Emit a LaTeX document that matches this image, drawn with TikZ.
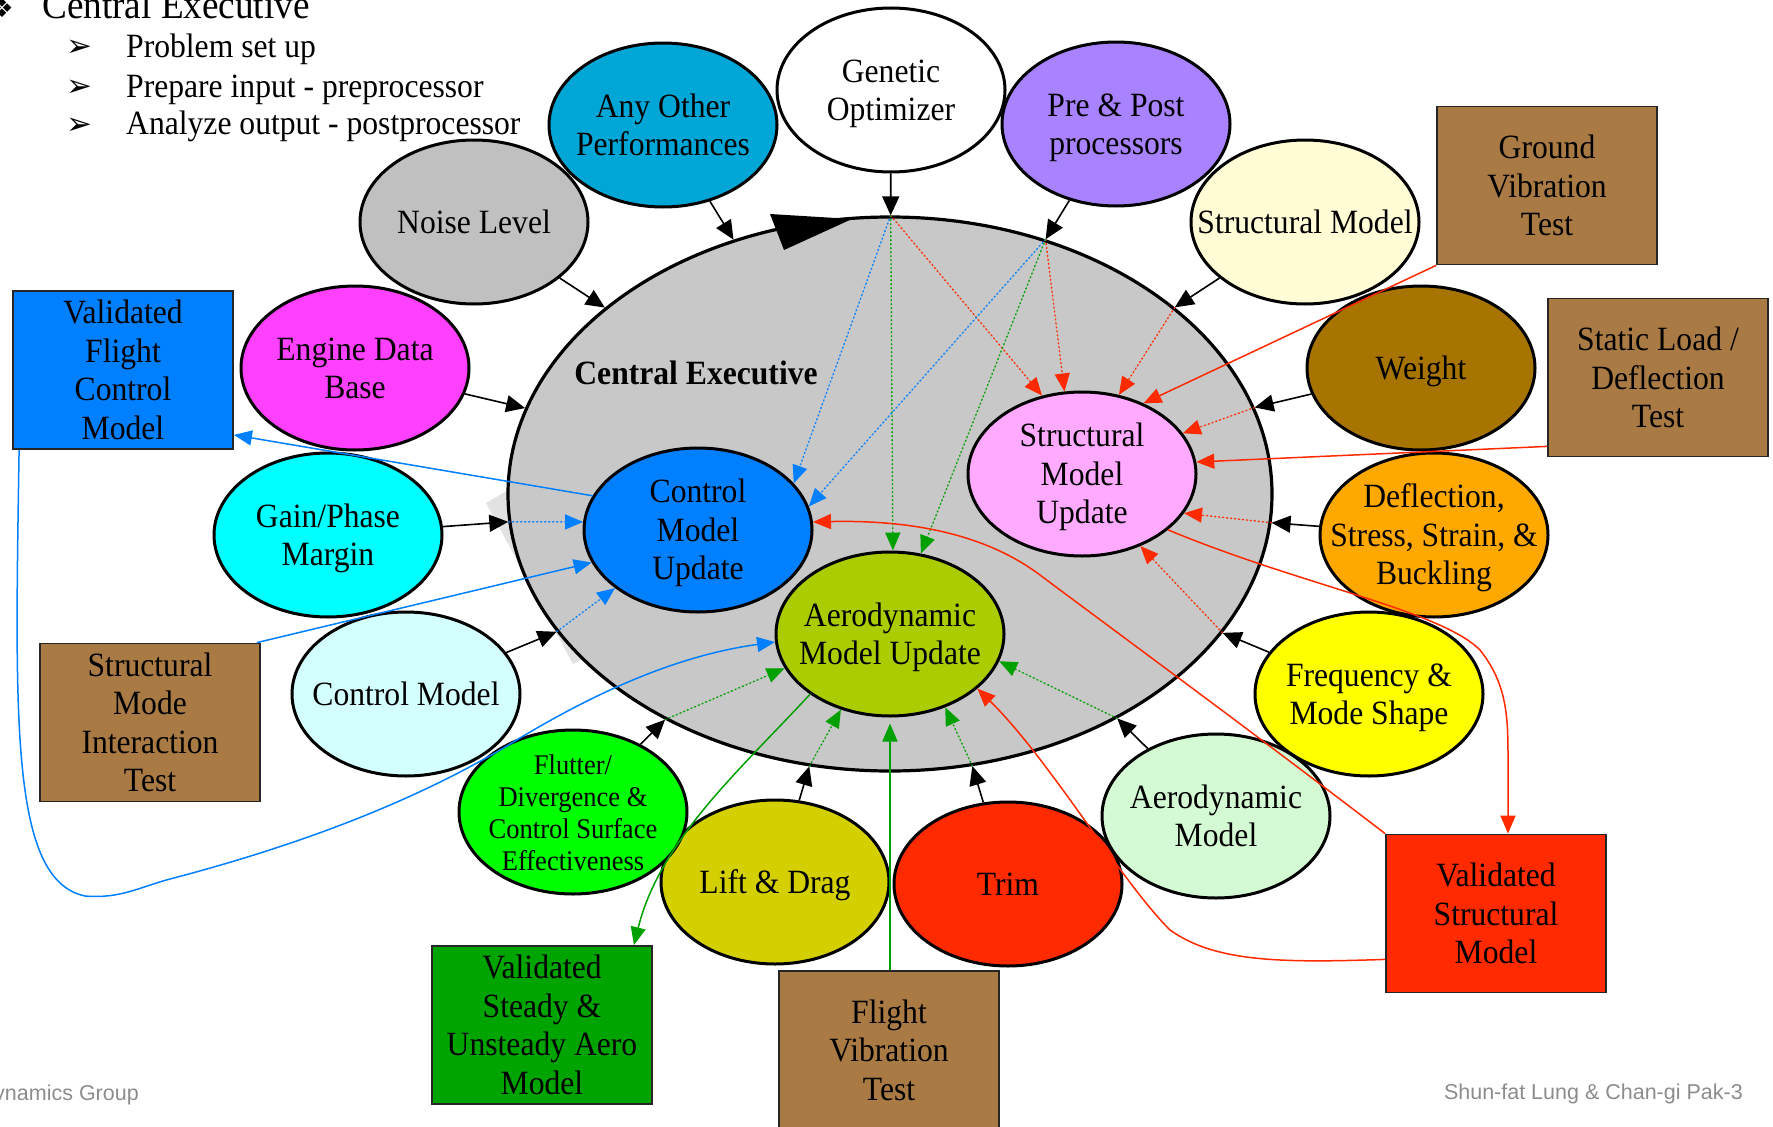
\documentclass[tikz,border=0pt]{standalone}
\usepackage{fontspec}
\setmainfont{Liberation Serif}[FakeStretch=0.93]
\newfontfamily\sansf{Liberation Sans}
\newfontfamily\symf{DejaVu Sans}
\usetikzlibrary{shapes.geometric,arrows.meta}
\definecolor{cAOP}{RGB}{0,166,214}
\definecolor{cPP}{RGB}{168,130,255}
\definecolor{cSM}{RGB}{255,252,214}
\definecolor{cBrown}{RGB}{169,122,68}
\definecolor{cWt}{RGB}{168,116,0}
\definecolor{cDef}{RGB}{255,168,0}
\definecolor{cFreq}{RGB}{255,255,0}
\definecolor{cRed}{RGB}{255,42,0}
\definecolor{cAM}{RGB}{212,250,212}
\definecolor{cLift}{RGB}{212,208,0}
\definecolor{cVSUA}{RGB}{0,164,0}
\definecolor{cFlut}{RGB}{0,255,0}
\definecolor{cCM}{RGB}{212,255,255}
\definecolor{cGP}{RGB}{0,255,255}
\definecolor{cBlue}{RGB}{0,128,255}
\definecolor{cEng}{RGB}{255,64,255}
\definecolor{cNoise}{RGB}{192,192,192}
\definecolor{cSMU}{RGB}{255,170,255}
\definecolor{cAMU}{RGB}{170,204,0}
\definecolor{cCE}{RGB}{200,200,200}
\definecolor{cShadow}{RGB}{226,226,226}
\definecolor{lBlue}{RGB}{0,128,255}
\definecolor{lRed}{RGB}{255,42,0}
\definecolor{lGreen}{RGB}{0,160,0}
\definecolor{cFoot}{RGB}{140,140,140}
\newcommand\ellnode[5]{\node[ell,fill=#3] (#1) at (#2) {};\node[lbl,#4] (#1t) at (#1) {\strut #5\strut};}
\begin{document}
\begin{tikzpicture}[x=1pt,y=-1pt,
  ell/.style={ellipse,draw=black,line width=3pt,minimum width=228pt,minimum height=164pt,inner sep=0pt},
  lbl/.style={align=center,inner sep=0pt,yshift=-3.6pt,font=\fontsize{34}{38.5}\selectfont},
  box/.style={rectangle,draw=black!85,line width=1.8pt,minimum width=220pt,minimum height=158pt,align=center,inner sep=0pt,font=\fontsize{34}{38.5}\selectfont},
  blk/.style={draw=black,line width=1.6pt,-{Triangle[length=19pt,width=17pt]}},
  dotl/.style={line width=1.4pt,dash pattern=on 1.5pt off 2.5pt,-{Triangle[length=18pt,width=15pt]}},
  soll/.style={line width=1.5pt,-{Triangle[length=18pt,width=15pt]}},
  bdot/.style={dotl,draw=lBlue,fill=lBlue},
  rdot/.style={dotl,draw=lRed,fill=lRed},
  gdot/.style={dotl,draw=lGreen,fill=lGreen},
  bsol/.style={soll,draw=lBlue},
  rsol/.style={soll,draw=lRed},
  gsol/.style={soll,draw=lGreen},
  arrb/.style={font=\symf\bfseries\fontsize{31}{33}\selectfont,inner sep=0pt}]
\useasboundingbox (0,0) rectangle (1773,1127);
% shadow artefact and central executive
\fill[cShadow] (486,503) -- (510,489) -- (600,650) -- (573,664) -- cycle;
\node[ellipse,draw=black,line width=3.2pt,fill=cCE,minimum width=764pt,minimum height=554pt,inner sep=0pt] (ce) at (890,494) {};
\fill[black] (770,214) -- (852,219) -- (784,250) -- cycle;
\node[font=\bfseries\fontsize{34}{38}\selectfont,inner sep=0pt] (celbl) at (696,373) {Central Executive};
% inner nodes
\ellnode{cmu}{698,530}{cBlue}{}{Control\\Model\\Update}
\ellnode{smu}{1082,474}{cSMU}{}{Structural\\Model\\Update}
\ellnode{amu}{890,634}{cAMU}{}{Aerodynamic\\Model Update}
% outer ellipses
\ellnode{aop}{663,125}{cAOP}{}{Any Other\\Performances}
\ellnode{gen}{891,90}{white}{}{Genetic\\Optimizer}
\ellnode{pp}{1116,124}{cPP}{}{Pre \& Post\\processors}
\ellnode{noise}{474,222}{cNoise}{}{Noise Level}
\ellnode{sm}{1305,222}{cSM}{}{Structural Model}
\ellnode{wt}{1421,368}{cWt}{}{Weight}
\ellnode{def}{1434,535}{cDef}{}{Deflection,\\Stress, Strain, \&\\Buckling}
\ellnode{freq}{1369,694}{cFreq}{}{Frequency \&\\Mode Shape}
\ellnode{am}{1216,816}{cAM}{}{Aerodynamic\\Model}
\ellnode{trim}{1008,884}{cRed}{}{Trim}
\ellnode{lift}{775,882}{cLift}{}{Lift \& Drag}
\ellnode{flut}{573,812}{cFlut}{font=\fontsize{28.5}{32}\selectfont}{Flutter/\\Divergence \&\\Control Surface\\Effectiveness}
\ellnode{cm}{406,694}{cCM}{}{Control Model}
\ellnode{gp}{328,535}{cGP}{}{Gain/Phase\\Margin}
\ellnode{eng}{355,368}{cEng}{}{Engine Data\\Base}
% boxes
\node[box,fill=cBlue] (vfcm) at (123,370) {Validated\\Flight\\Control\\Model};
\node[box,fill=cBrown] (smit) at (150,722.5) {Structural\\Mode\\Interaction\\Test};
\node[box,fill=cVSUA] (vsua) at (542,1025) {Validated\\Steady \&\\Unsteady Aero\\Model};
\node[box,fill=cBrown] (fvt) at (889,1050) {Flight\\Vibration\\Test};
\node[box,fill=cRed] (vsm) at (1496,913.5) {Validated\\Structural\\Model};
\node[box,fill=cBrown] (slt) at (1658,377.5) {Static Load /\\Deflection\\Test};
\node[box,fill=cBrown] (gvt) at (1547,185.5) {Ground\\Vibration\\Test};
% top text
\node[font=\symf\fontsize{26}{28}\selectfont,inner sep=0pt] (b0) at (2,8) {❖};
\node[anchor=base west,font=\fontsize{40}{44}\selectfont,inner sep=0pt] (t0) at (42,19) {Central Executive};
\node[arrb] (b1) at (79,48) {➢};
\node[arrb] (b2) at (79,88) {➢};
\node[arrb] (b3) at (79,126) {➢};
\node[anchor=base west,font=\fontsize{34}{38}\selectfont,inner sep=0pt] (t1) at (126,57) {Problem set up};
\node[anchor=base west,font=\fontsize{34}{38}\selectfont,inner sep=0pt] (t2) at (126,97) {Prepare input - preprocessor};
\node[anchor=base west,font=\fontsize{34}{38}\selectfont,inner sep=0pt] (t3) at (126,134) {Analyze output - postprocessor};
% footer
\node[anchor=base east,font=\sansf\fontsize{21.5}{24}\selectfont,text=cFoot,inner sep=0pt] (f1) at (139,1100) {ynamics Group};
\node[anchor=base east,font=\sansf\fontsize{21.5}{24}\selectfont,text=cFoot,inner sep=0pt] (f2) at (1743,1099) {Shun-fat Lung \& Chan-gi Pak-3};
% black arrows into the central executive
\draw[blk] (aop) -- (ce) coordinate[pos=1] (jaop);
\draw[blk] (gen) -- (ce) coordinate[pos=1] (jgen);
\draw[blk] (pp) -- (ce) coordinate[pos=1] (jpp);
\draw[blk] (sm) -- (ce) coordinate[pos=1] (jsm);
\draw[blk] (wt) -- (ce) coordinate[pos=1] (jwt);
\draw[blk] (def) -- (ce) coordinate[pos=1] (jdef);
\draw[blk] (freq) -- (ce) coordinate[pos=1] (jfreq);
\draw[blk] (am) -- (ce) coordinate[pos=1] (jam);
\draw[blk] (trim) -- (ce) coordinate[pos=1] (jtrim);
\draw[blk] (lift) -- (ce) coordinate[pos=1] (jlift);
\draw[blk] (flut) -- (ce) coordinate[pos=1] (jflut);
\draw[blk] (cm) -- (ce) coordinate[pos=1] (jcm);
\draw[blk] (gp) -- (ce) coordinate[pos=1] (jgp);
\draw[blk] (eng) -- (ce) coordinate[pos=1] (jeng);
\draw[blk] (noise) -- (ce) coordinate[pos=1] (jnoise);
% dotted internal links
\draw[bdot] (jgen) -- (cmu.26);
\draw[rdot] (jgen) -- (smu.117);
\draw[gdot] (jgen) -- (amu.88);
\draw[bdot] (jpp) -- (cmu.12);
\draw[rdot] (jpp) -- (smu.102);
\draw[gdot] (jpp) -- (amu.69);
\draw[rdot] (jsm) -- (smu.65);
\draw[rdot] (jwt) -- (smu.22);
\draw[rdot] (jdef) -- (smu.-21);
\draw[rdot] (jfreq) -- (smu.-51);
\draw[gdot] (jam) -- (amu.-14);
\draw[gdot] (jtrim) -- (amu.-53);
\draw[gdot] (jlift) -- (amu.237);
\draw[gdot] (jflut) -- (amu.198);
\draw[bdot] (jcm) -- (cmu.215);
\draw[bdot] (jgp) -- (cmu.176);
% solid links
\draw[bsol] (cmu.162) -- ([yshift=15pt]vfcm.south east);
\draw[bsol] ([xshift=-4pt]smit.north east) -- (cmu.197);
\draw[bsol] ([xshift=7pt]vfcm.south west) .. controls (15,720) and (10,880) .. (85,896) .. controls (120,899) and (140,887) .. (170,879) .. controls (300,845) and (420,800) .. (520,738) .. controls (600,690) and (680,655) .. (amu.184);
\draw[rsol] (gvt.south west) -- (smu.49);
\draw[rsol] ([yshift=11pt]slt.south west) -- (smu.6);
\draw[rsol] (smu.-33) .. controls (1300,585) and (1440,610) .. (1480,650) .. controls (1508,685) and (1508,720) .. (1508,760) -- ([xshift=12pt]vsm.north);
\draw[rsol] (vsm.north west) .. controls (1250,730) and (1100,620) .. (1040,575) .. controls (980,530) and (900,520) .. (cmu.4);
\draw[rsol] ([yshift=34pt]vsm.south west) .. controls (1280,963) and (1215,962) .. (1170,930) .. controls (1120,880) and (1050,760) .. (amu.-32);
\draw[gsol,shorten >=6pt] (amu.south |- fvt.north) -- (amu.south);
\draw[gsol] (amu.217) .. controls (740,770) and (660,840) .. ([xshift=-19pt]vsua.north east);
\end{tikzpicture}
\end{document}
